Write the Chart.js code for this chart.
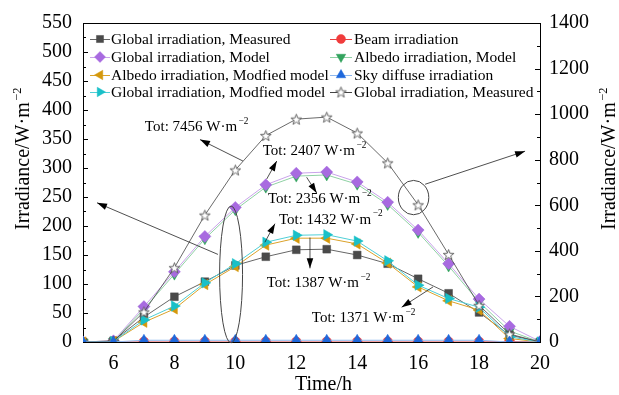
<!DOCTYPE html>
<html><head><meta charset="utf-8">
<script src="https://cdn.jsdelivr.net/npm/chart.js@4/dist/chart.umd.min.js"></script>
<style>html,body{margin:0;padding:0;background:#fff;}canvas{display:block;}
#fl{position:absolute;left:-9999px;top:0;font-family:"Liberation Serif";font-size:20px;}</style>
</head><body>
<div id="fl">Irradiance 0123456789 Tot</div>
<canvas id="c" width="619" height="395"></canvas>
<script>
// ---- data ----
const hours = [5,6,7,8,9,10,11,12,13,14,15,16,17,18,19,20];
const globalMeasured   = [0, 2, 43, 78, 104, 132, 147, 159, 160, 150, 135, 109, 84, 51, 12, 0];
const beamIrr          = [0, 0, 0, 0, 0, 0, 0, 0, 0, 0, 0, 0, 0, 0, 1, 0];
const globalModel      = [0, 2, 61, 121, 182, 232, 271, 291, 293, 276, 241, 193, 135, 74, 27, 1];
const albedoModel      = [0, 1, 57, 117, 178, 228, 267, 286, 288, 272, 237, 189, 131, 69, 19, 0];
const albedoModified   = [0, 1, 34, 57, 99, 130, 167, 179, 179, 169, 136, 95, 71, 55, 6, 0];
const skyDiffuse       = [0, 0, 3, 3, 3, 3, 3, 3, 3, 3, 3, 3, 3, 3, 0, 0];
const globalModified   = [0, 1, 38, 62, 102, 135, 172, 184, 185, 174, 140, 98, 75, 60, 9, 0];
const globalMeasuredR  = [0, 3, 132, 326, 557, 755, 906, 978, 987, 917, 786, 602, 384, 161, 35, 0];

const xTickValues = [6,8,10,12,14,16,18,20];
const leftRange = [0, 550], leftStep = 50;
const rightRange = [0, 1400], rightStep = 200;

const names = {
  gm: 'Global irradiation, Measured',
  beam: 'Beam irradiation',
  gmod: 'Global irradiation, Model',
  amod: 'Albedo irradiation, Model',
  amf: 'Albedo irradiation, Modfied model',
  sky: 'Sky diffuse irradiation',
  gmf: 'Global irradiation, Modfied model',
  gmr: 'Global irradiation, Measured'
};

// annotations in data units (hour, left-axis value)
const totLabels = [
  {text:'Tot: 7456 W\u00B7m', tx:7.03, ty:370, from:[10.25,312], to:[8.84,349]},
  {text:'Tot: 2407 W\u00B7m', tx:10.90, ty:329, from:[11.03,281], to:[11.36,312]},
  {text:'Tot: 2356 W\u00B7m', tx:11.07, ty:246, from:[12.34,284], to:[12.67,257]},
  {text:'Tot: 1432 W\u00B7m', tx:11.43, ty:211, from:[10.97,172], to:[11.30,204]},
  {text:'Tot: 1387 W\u00B7m', tx:11.03, ty:101, from:[12.45,180], to:[12.45,127]},
  {text:'Tot: 1371 W\u00B7m', tx:12.51, ty:41,  from:[16.49,95],  to:[15.46,60]}
];
const ellipses = [
  {cx:9.86, cy:116.5, rx:0.377, ry:118, from:[9.43,151], to:[5.46,240]},
  {cx:15.85, cy:249, rx:0.50, ry:29.6, from:[16.23,272], to:[19.51,329]}
];

// ---- star marker ----
function makeStar(R, r){
  const s = Math.ceil(R*2+3), c = document.createElement('canvas');
  c.width = s; c.height = s;
  const g = c.getContext('2d');
  g.beginPath();
  for (let i=0;i<10;i++){
    const rad = i%2 ? r : R, a = -Math.PI/2 + i*Math.PI/5;
    g.lineTo(s/2 + rad*Math.cos(a), s/2 + 0.6 + rad*Math.sin(a));
  }
  g.closePath(); g.fillStyle='#fff'; g.fill();
  g.strokeStyle='#555'; g.lineWidth=0.9; g.stroke();
  return c;
}
const starImg = makeStar(5.6, 2.3);

const pts = arr => hours.map((h,i)=>({x:h, y:arr[i]}));
function ds(key, arr, opts){
  return Object.assign({key, label:names[key], data:pts(arr), borderWidth:1, pointBorderWidth:0.5, tension:0, yAxisID:'y'}, opts);
}
const datasets = [
  ds('sky', skyDiffuse, {borderColor:'#8fb8ee', pointBackgroundColor:'#1f68dc', pointBorderColor:'#1f68dc', pointStyle:'triangle', pointRadius:6}),
  ds('gmr', globalMeasuredR, {yAxisID:'y2', borderColor:'#444', borderWidth:0.8, pointStyle:starImg}),
  ds('gmf', globalModified, {borderColor:'#4fcfd6', pointBackgroundColor:'#19c0c8', pointBorderColor:'#19c0c8', pointStyle:'triangle', rotation:90, pointRadius:6}),
  ds('amf', albedoModified, {borderColor:'#dba22a', pointBackgroundColor:'#d4980c', pointBorderColor:'#d4980c', pointStyle:'triangle', rotation:-90, pointRadius:6}),
  ds('gm', globalMeasured, {borderColor:'#666', pointBackgroundColor:'#4a4a4a', pointBorderColor:'#4a4a4a', pointStyle:'rect', pointRadius:5.5}),
  ds('gmod', globalModel, {borderColor:'#c9a3ea', pointBackgroundColor:'#a86ae0', pointBorderColor:'#a86ae0', pointStyle:'rectRot', pointRadius:6}),
  ds('amod', albedoModel, {borderColor:'#8fd1a4', pointBackgroundColor:'#33a35e', pointBorderColor:'#33a35e', pointStyle:'triangle', rotation:180, pointRadius:6}),
  ds('beam', beamIrr, {borderColor:'#e84040', pointBackgroundColor:'#f03c3c', pointBorderColor:'#f03c3c', pointStyle:'circle', pointRadius:5})
];
const legendCols = [
  ['gm','gmod','amf','gmf'],
  ['beam','amod','sky','gmr']
];

const SERIF = '"Liberation Serif", "Times New Roman", serif';

function supText(ctx, text, sup, x, y, size){
  ctx.font = size+'px '+SERIF;
  ctx.fillText(text, x, y);
  const w = ctx.measureText(text).width;
  ctx.font = (size*0.62)+'px '+SERIF;
  ctx.fillText(sup, x+w+1.5, y-size*0.38);
}
function arrow(ctx, x1,y1,x2,y2){
  ctx.beginPath(); ctx.moveTo(x1,y1); ctx.lineTo(x2,y2); ctx.stroke();
  const a = Math.atan2(y2-y1, x2-x1), L = 10, W = 3.3;
  ctx.beginPath();
  ctx.moveTo(x2,y2);
  ctx.lineTo(x2 - L*Math.cos(a) + W*Math.sin(a), y2 - L*Math.sin(a) - W*Math.cos(a));
  ctx.lineTo(x2 - L*Math.cos(a) - W*Math.sin(a), y2 - L*Math.sin(a) + W*Math.cos(a));
  ctx.closePath(); ctx.fill();
}

const decor = {
  id:'decor',
  beforeDatasetsDraw(chart){
    const {ctx, chartArea:ca, scales} = chart;
    ctx.save();
    ctx.strokeStyle='#000'; ctx.lineWidth=1;
    ctx.strokeRect(ca.left+0.5, ca.top+0.5, ca.right-ca.left, ca.bottom-ca.top);
    ctx.beginPath();
    for (let v=leftRange[0]; v<=leftRange[1]; v+=leftStep/2){
      const y = Math.round(scales.y.getPixelForValue(v))+0.5;
      const L = (v % leftStep === 0) ? 5 : 3;
      ctx.moveTo(ca.left, y); ctx.lineTo(ca.left+L, y);
    }
    for (let v=rightRange[0]; v<=rightRange[1]; v+=rightStep/2){
      const y = Math.round(scales.y2.getPixelForValue(v))+0.5;
      const L = (v % rightStep === 0) ? 5 : 3;
      ctx.moveTo(ca.right+0.5, y); ctx.lineTo(ca.right-L, y);
    }
    ctx.stroke();
    ctx.restore();
  },
  afterDatasetsDraw(chart){
    const {ctx, scales} = chart;
    const X = v=>scales.x.getPixelForValue(v), Y = v=>scales.y.getPixelForValue(v);
    ctx.save();
    ctx.fillStyle='#000'; ctx.strokeStyle='#222'; ctx.lineWidth=0.8;
    ctx.textBaseline='middle'; ctx.textAlign='left';
    totLabels.forEach(t=>{
      supText(ctx, t.text, '\u22122', X(t.tx), Y(t.ty), 15);
      ctx.fillStyle='#000';
      arrow(ctx, X(t.from[0]), Y(t.from[1]), X(t.to[0]), Y(t.to[1]));
    });
    ellipses.forEach(e=>{
      const cx=X(e.cx), cy=Y(e.cy), rx=X(e.cx+e.rx)-cx, ry=cy-Y(e.cy+e.ry);
      ctx.strokeStyle='#444'; ctx.lineWidth=1;
      ctx.beginPath(); ctx.ellipse(cx,cy,rx,ry,0,0,Math.PI*2); ctx.stroke();
      ctx.strokeStyle='#222'; ctx.lineWidth=0.8;
      arrow(ctx, X(e.from[0]), Y(e.from[1]), X(e.to[0]), Y(e.to[1]));
    });
    const rowY = [39, 57, 75, 92];
    const colX = [{l0:90,l1:110,m:100,t:111},{l0:330,l1:352,m:341,t:354}];
    legendCols.forEach((col,ci)=>{
      col.forEach((key,ri)=>{
        const d = datasets.find(q=>q.key===key), c = colX[ci], y = rowY[ri];
        ctx.strokeStyle = d.borderColor; ctx.lineWidth = 1;
        ctx.beginPath(); ctx.moveTo(c.l0, y+0.5); ctx.lineTo(c.l1, y+0.5); ctx.stroke();
        ctx.fillStyle = d.pointBackgroundColor || '#fff';
        ctx.strokeStyle = d.pointBorderColor || '#555';
        ctx.lineWidth = 0.5;
        Chart.helpers.drawPoint(ctx, {pointStyle:d.pointStyle, rotation:d.rotation||0, radius:(d.pointRadius||5)-0.5, borderWidth:0.5}, c.m, y);
        ctx.fillStyle='#000'; ctx.textAlign='left'; ctx.textBaseline='middle';
        ctx.font = '15.5px '+SERIF;
        ctx.fillText(d.label, c.t, y+0.5);
      });
    });
    ctx.fillStyle='#000'; ctx.textBaseline='alphabetic'; ctx.textAlign='left';
    ctx.save(); ctx.translate(29, 230); ctx.rotate(-Math.PI/2);
    supText(ctx, 'Irradiance/W\u00B7m', '\u22122', 0, 0, 20); ctx.restore();
    ctx.save(); ctx.translate(615, 230); ctx.rotate(-Math.PI/2);
    supText(ctx, 'Irradiance/W\u00B7m', '\u22122', 0, 0, 20); ctx.restore();
    ctx.font = '20px '+SERIF; ctx.textAlign='center'; ctx.textBaseline='middle';
    ctx.fillText('Time/h', 323.5, 385);
    ctx.restore();
  }
};

const tickFont = {family:'"Liberation Serif", "Times New Roman", serif', size:20};
const plain = v => String(v);

function build(){
  new Chart(document.getElementById('c'), {
    type:'line',
    data:{datasets},
    options:{
      responsive:false, animation:false, devicePixelRatio:1,
      layout:{padding:{top:21, left:0, right:0, bottom:0}},
      plugins:{legend:{display:false}, tooltip:{enabled:false}},
      scales:{
        x:{type:'linear', min:hours[0], max:hours[hours.length-1],
          afterBuildTicks:s=>{ s.ticks = xTickValues.map(v=>({value:v})); },
          grid:{display:false, drawTicks:false}, border:{display:false},
          ticks:{font:tickFont, color:'#000', padding:10, maxRotation:0, autoSkip:false, callback:plain},
          afterFit:s=>{ s.height = 53; }},
        y:{position:'left', min:leftRange[0], max:leftRange[1],
          grid:{display:false, drawTicks:false}, border:{display:false},
          ticks:{stepSize:leftStep, font:tickFont, color:'#000', padding:11, callback:plain},
          afterFit:s=>{ s.width = 83; }},
        y2:{position:'right', min:rightRange[0], max:rightRange[1],
          grid:{display:false, drawTicks:false}, border:{display:false},
          ticks:{stepSize:rightStep, font:tickFont, color:'#000', padding:9, callback:plain},
          afterFit:s=>{ s.width = 79; }}
      }
    },
    plugins:[decor]
  });
}
Promise.all([
  document.fonts.load('20px "Liberation Serif"'),
  document.fonts.load('15px "Liberation Serif"')
]).then(build, build);
</script>
</body></html>
